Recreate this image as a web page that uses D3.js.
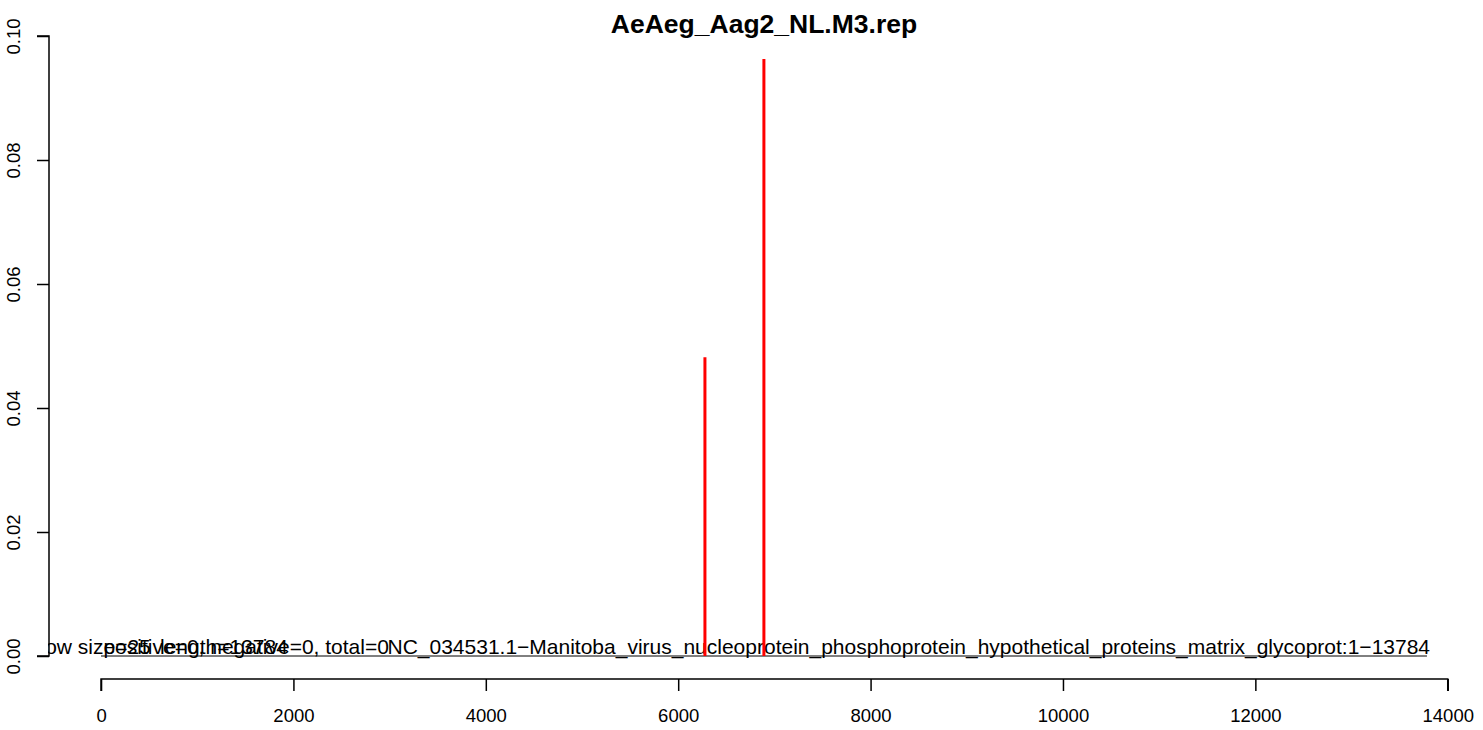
<!DOCTYPE html>
<html><head><meta charset="utf-8">
<script src="https://cdn.jsdelivr.net/npm/d3@7"></script>
<style>
body{margin:0;background:#fff;}
svg{display:block;font-family:"Liberation Sans",Arial,Helvetica,sans-serif;}
</style></head>
<body>
<script>
// ---- data ----
const title = "AeAeg_Aag2_NL.M3.rep";
const seqLength = 13784;
const peakPositions = [6278, 6891];
const peakValues = [0.0482, 0.0963];
const xTicks = [0, 2000, 4000, 6000, 8000, 10000, 12000, 14000];
const yTicks = [0, 0.02, 0.04, 0.06, 0.08, 0.10];
const bottomLabels = [
  "window size=25",
  "positive=0, negative=0, total=0",
  "length=13784",
  "NC_034531.1\u2212Manitoba_virus_nucleoprotein_phosphoprotein_hypothetical_proteins_matrix_glycoprot:1\u221213784"
];
const bottomLabelAnchor = [-1030, 25, 613, 13816];
const bottomLabelAlign = ["start", "start", "start", "end"];

// ---- layout ----
const W = 1483, H = 730;
const plotL = 48, plotR = 1480, plotT = 36, plotB = 656;
const pad = seqLength * 0.04;
const x = d3.scaleLinear().domain([-pad, seqLength + pad]).range([plotL, plotR]);
const y = d3.scaleLinear().domain([0, 0.1]).range([plotB, plotT]);

const svg = d3.select("body").append("svg").attr("width", W).attr("height", H);

svg.append("defs").append("clipPath").attr("id", "plotclip")
  .append("rect").attr("x", plotL).attr("y", 0).attr("width", plotR - plotL).attr("height", H);

const plot = svg.append("g").attr("clip-path", "url(#plotclip)");

// zero coverage line
plot.append("line")
  .attr("x1", x(0)).attr("x2", x(seqLength))
  .attr("y1", y(0)).attr("y2", y(0))
  .attr("stroke", "#000").attr("stroke-width", 1);

// labels
plot.selectAll("text.blab").data(bottomLabels).enter().append("text")
  .attr("class", "blab")
  .attr("x", (d, i) => x(bottomLabelAnchor[i]))
  .attr("y", y(0) - 2)
  .attr("text-anchor", (d, i) => bottomLabelAlign[i])
  .attr("font-size", 21)
  .attr("fill", "#000")
  .text(d => d);

// peaks
plot.selectAll("line.peak").data(peakPositions).enter().append("line")
  .attr("class", "peak")
  .attr("x1", d => x(d)).attr("x2", d => x(d))
  .attr("y1", y(0)).attr("y2", (d, i) => y(peakValues[i]))
  .attr("stroke", "#FF0000").attr("stroke-width", 3);

// x axis
const xAxis = svg.append("g").attr("transform", "translate(0,679)")
  .call(d3.axisBottom(x).tickValues(xTicks).tickSize(12).tickPadding(18).tickFormat(d3.format("d")));
xAxis.select(".domain").attr("d", `M${x(xTicks[0])},12V0H${x(xTicks[xTicks.length-1])}V12`).attr("stroke-width", 1.5);
xAxis.selectAll(".tick line").attr("stroke-width", 1.5);
xAxis.selectAll("text").attr("font-size", 18.5).attr("font-family", "Liberation Sans, Arial, sans-serif").attr("fill", "#000");

// y axis
const yAxis = svg.append("g").attr("transform", `translate(${plotL + 1},0)`)
  .call(d3.axisLeft(y).tickValues(yTicks).tickSize(12).tickFormat(d3.format(".2f")));
yAxis.select(".domain").attr("d", `M-12,${y(yTicks[0])}H0V${y(yTicks[yTicks.length-1])}H-12`).attr("stroke-width", 1.5);
yAxis.selectAll(".tick line").attr("stroke-width", 1.5);
yAxis.selectAll("text")
  .attr("font-size", 18.5).attr("font-family", "Liberation Sans, Arial, sans-serif").attr("fill", "#000")
  .attr("x", 0).attr("dy", 0)
  .attr("text-anchor", "middle")
  .attr("transform", "translate(-29,0) rotate(-90)");

// title
svg.append("text")
  .attr("x", x(seqLength / 2)).attr("y", 33)
  .attr("text-anchor", "middle")
  .attr("font-size", 26.5).attr("font-weight", "bold")
  .text(title);
</script>
</body></html>
